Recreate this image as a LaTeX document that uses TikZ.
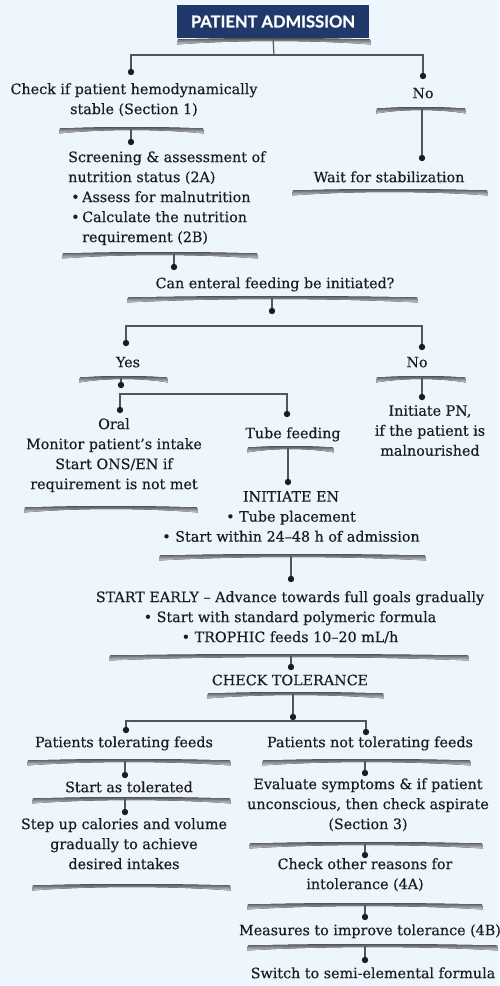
\documentclass[tikz,border=0pt]{standalone}
\usepackage{fontspec}
\setmainfont{DejaVu Serif}[FakeBold=0.35]
\newfontfamily\titlefont{Lato}[FakeBold=0.6]
\definecolor{bg}{RGB}{237,246,252}
\definecolor{navy}{RGB}{33,56,106}
\definecolor{ink}{RGB}{28,28,30}
\definecolor{wire}{RGB}{85,85,88}
\definecolor{swdark}{RGB}{78,78,80}
\definecolor{swlight}{RGB}{205,210,215}
\newcommand\bodyfont{\fontsize{14.3}{20}\selectfont}
% curled shadow bar under each text block: #1 left x, #2 right x, #3 top y
\newcommand\swoosh[3]{%
  \fill[top color=swdark,bottom color=swlight]
    (#1,#3+1.5) .. controls ({#1+0.3*(#2-#1)},{#3-0.3}) and ({#2-0.3*(#2-#1)},{#3-0.3}) .. (#2,#3+1.5)
    -- (#2+1,#3+6.5)
    .. controls ({#2-0.3*(#2-#1)},{#3+1.9}) and ({#1+0.3*(#2-#1)},{#3+1.9}) .. (#1-1,#3+6.5)
    -- cycle;}
\newcommand\dotat[1]{\fill[ink] (#1) circle (3.2);}
\begin{document}
\begin{tikzpicture}[x=1pt,y=-1pt,
  txt/.style={font=\bodyfont,text=ink,inner sep=0pt,align=center,anchor=north,execute at begin node=\strut},
  titlebox/.style={fill=navy,text=white,minimum width=192pt,minimum height=33pt,inner sep=0pt,
    font=\titlefont\bfseries\fontsize{16.5}{17}\selectfont},
  link/.style={draw=wire,line width=1.2pt}]

% canvas
\fill[bg] (0,0) rectangle (499,986);
\useasboundingbox (0,0) rectangle (499,986);

% ---------- title ----------
\swoosh{178}{370}{38}
\node[titlebox] (title) at (273,21.5) {PATIENT ADMISSION};
\coordinate (h0) at (274,55);
\coordinate (dA) at (131,72);
\coordinate (dB) at (423,76);
\draw[link] (title.south) -- (h0);
\draw[link] (dA) -- (dA |- h0) -- (dB |- h0) -- (dB);
\dotat{dA}\dotat{dB}

% ---------- stable branch ----------
\node[txt] (check) at (134,83) {Check if patient hemodynamically\\stable (Section 1)};
\swoosh{60}{203}{127}
\coordinate (s1) at (131,129);
\coordinate (dC) at (131,142);
\draw[link] (s1) -- (dC); \dotat{dC}

\node[txt,anchor=north west,align=left] (screen) at (68,151)
  {Screening \& assessment of\\nutrition status (2A)\\
   \makebox[14pt][l]{\hspace{3pt}•}Assess for malnutrition\\
   \makebox[14pt][l]{\hspace{3pt}•}Calculate the nutrition\\
   \hspace*{14pt}requirement (2B)};
\swoosh{63}{257}{252}
\coordinate (s2) at (174,254);
\coordinate (dD) at (174,267);
\draw[link] (s2) -- (dD); \dotat{dD}

\node[txt] (enteral) at (275,274) {Can enteral feeding be initiated?};
\swoosh{128}{417}{296}
\coordinate (s3) at (272,298);
\coordinate (dE) at (272,311);
\draw[link] (s3) -- (dE); \dotat{dE}

% yes / no
\coordinate (h1) at (272,326);
\coordinate (dF) at (126,343);
\coordinate (dG0) at (422,347);
\draw[link] (dF) -- (dF |- h1) -- (dG0 |- h1) -- (dG0);
\dotat{dF}\dotat{dG0}

\node[txt] (yes) at (128,353) {Yes};
\node[txt] (no2) at (417,353) {No};
\swoosh{80}{167}{376}
\swoosh{377}{465}{376}
\coordinate (s4) at (121,378);
\coordinate (dG) at (121,385);
\coordinate (s5) at (422,378);
\coordinate (dH) at (422,397);
\draw[link] (s4) -- (dG); \dotat{dG}
\draw[link] (s5) -- (dH); \dotat{dH}

\node[txt] (pn) at (430,405) {Initiate PN,\\if the patient is\\malnourished};

% oral / tube
\coordinate (h2) at (120,394);
\coordinate (dI) at (120,410);
\coordinate (dJ) at (287,414);
\draw[link] (dI) -- (dI |- h2) -- (dJ |- h2) -- (dJ);
\dotat{dI}\dotat{dJ}

\node[txt] (oral) at (114,418) {Oral\\Monitor patient’s intake\\Start ONS/EN if\\requirement is not met};
\swoosh{25}{197}{506}

\node[txt] (tube) at (293,424) {Tube feeding};
\swoosh{248}{333}{446}
\coordinate (s7) at (288,448);
\coordinate (dK) at (288,482);
\draw[link] (s7) -- (dK); \dotat{dK}

\node[txt] (initen) at (291,491) {INITIATE EN\\• Tube placement\\• Start within 24–48 h of admission};
\swoosh{160}{425}{554}
\coordinate (s8) at (291,556);
\coordinate (dL) at (291,579);
\draw[link] (s8) -- (dL); \dotat{dL}

\node[txt] (early) at (290,591) {START EARLY – Advance towards full goals gradually\\• Start with standard polymeric formula\\• TROPHIC feeds 10–20 mL/h};
\swoosh{110}{468}{654}
\coordinate (s9) at (291,656);
\coordinate (dM) at (291,667);
\draw[link] (s9) -- (dM); \dotat{dM}

\node[txt] (tol) at (290,671) {CHECK TOLERANCE};
\swoosh{208}{383}{692}
\coordinate (s10) at (293,694);
\coordinate (dN) at (293,717);
\draw[link] (s10) -- (dN); \dotat{dN}

% tolerating / not tolerating
\coordinate (h3) at (293,721);
\coordinate (dO) at (126,730);
\coordinate (dP) at (366,732);
\draw[link] (dO) -- (dO |- h3) -- (dP |- h3) -- (dP);
\dotat{dO}\dotat{dP}

\node[txt] (ptol) at (124,733) {Patients tolerating feeds};
\node[txt] (pnot) at (370,733) {Patients not tolerating feeds};
\swoosh{28}{230}{759}
\swoosh{263}{470}{759}

% tolerating column
\coordinate (s11) at (125,761);
\coordinate (dQ) at (125,775);
\draw[link] (s11) -- (dQ); \dotat{dQ}
\node[txt] (sat) at (129,778) {Start as tolerated};
\swoosh{33}{230}{797}
\coordinate (s13) at (125,799);
\coordinate (dS) at (125,812);
\draw[link] (s13) -- (dS); \dotat{dS}
\node[txt] (step) at (124,818) {Step up calories and volume\\gradually to achieve\\desired intakes};
\swoosh{33}{230}{884}

% not tolerating column
\coordinate (s12) at (365,761);
\coordinate (dR) at (365,773);
\draw[link] (s12) -- (dR); \dotat{dR}
\node[txt] (eval) at (368,778) {Evaluate symptoms \& if patient\\unconscious, then check aspirate\\(Section 3)};
\swoosh{250}{482}{842}
\coordinate (s15) at (365,844);
\coordinate (dT) at (365,855);
\draw[link] (s15) -- (dT); \dotat{dT}
\node[txt] (other) at (365,858) {Check other reasons for\\intolerance (4A)};
\swoosh{248}{482}{903}
\coordinate (s16) at (365,905);
\coordinate (dU) at (365,917);
\draw[link] (s16) -- (dU); \dotat{dU}
\node[txt] (meas) at (370,921) {Measures to improve tolerance (4B)};
\swoosh{248}{497}{944}
\coordinate (s17) at (365,946);
\coordinate (dV) at (365,960);
\draw[link] (s17) -- (dV); \dotat{dV}
\node[txt] (switch) at (373,964) {Switch to semi-elemental formula};

% ---------- unstable branch ----------
\node[txt] (no1) at (423,84) {No};
\swoosh{377}{465}{107}
\coordinate (s18) at (422,109);
\coordinate (dW) at (422,158);
\draw[link] (s18) -- (dW); \dotat{dW}
\node[txt] (wait) at (389,168) {Wait for stabilization};
\swoosh{293}{487}{189}

\end{tikzpicture}
\end{document}
